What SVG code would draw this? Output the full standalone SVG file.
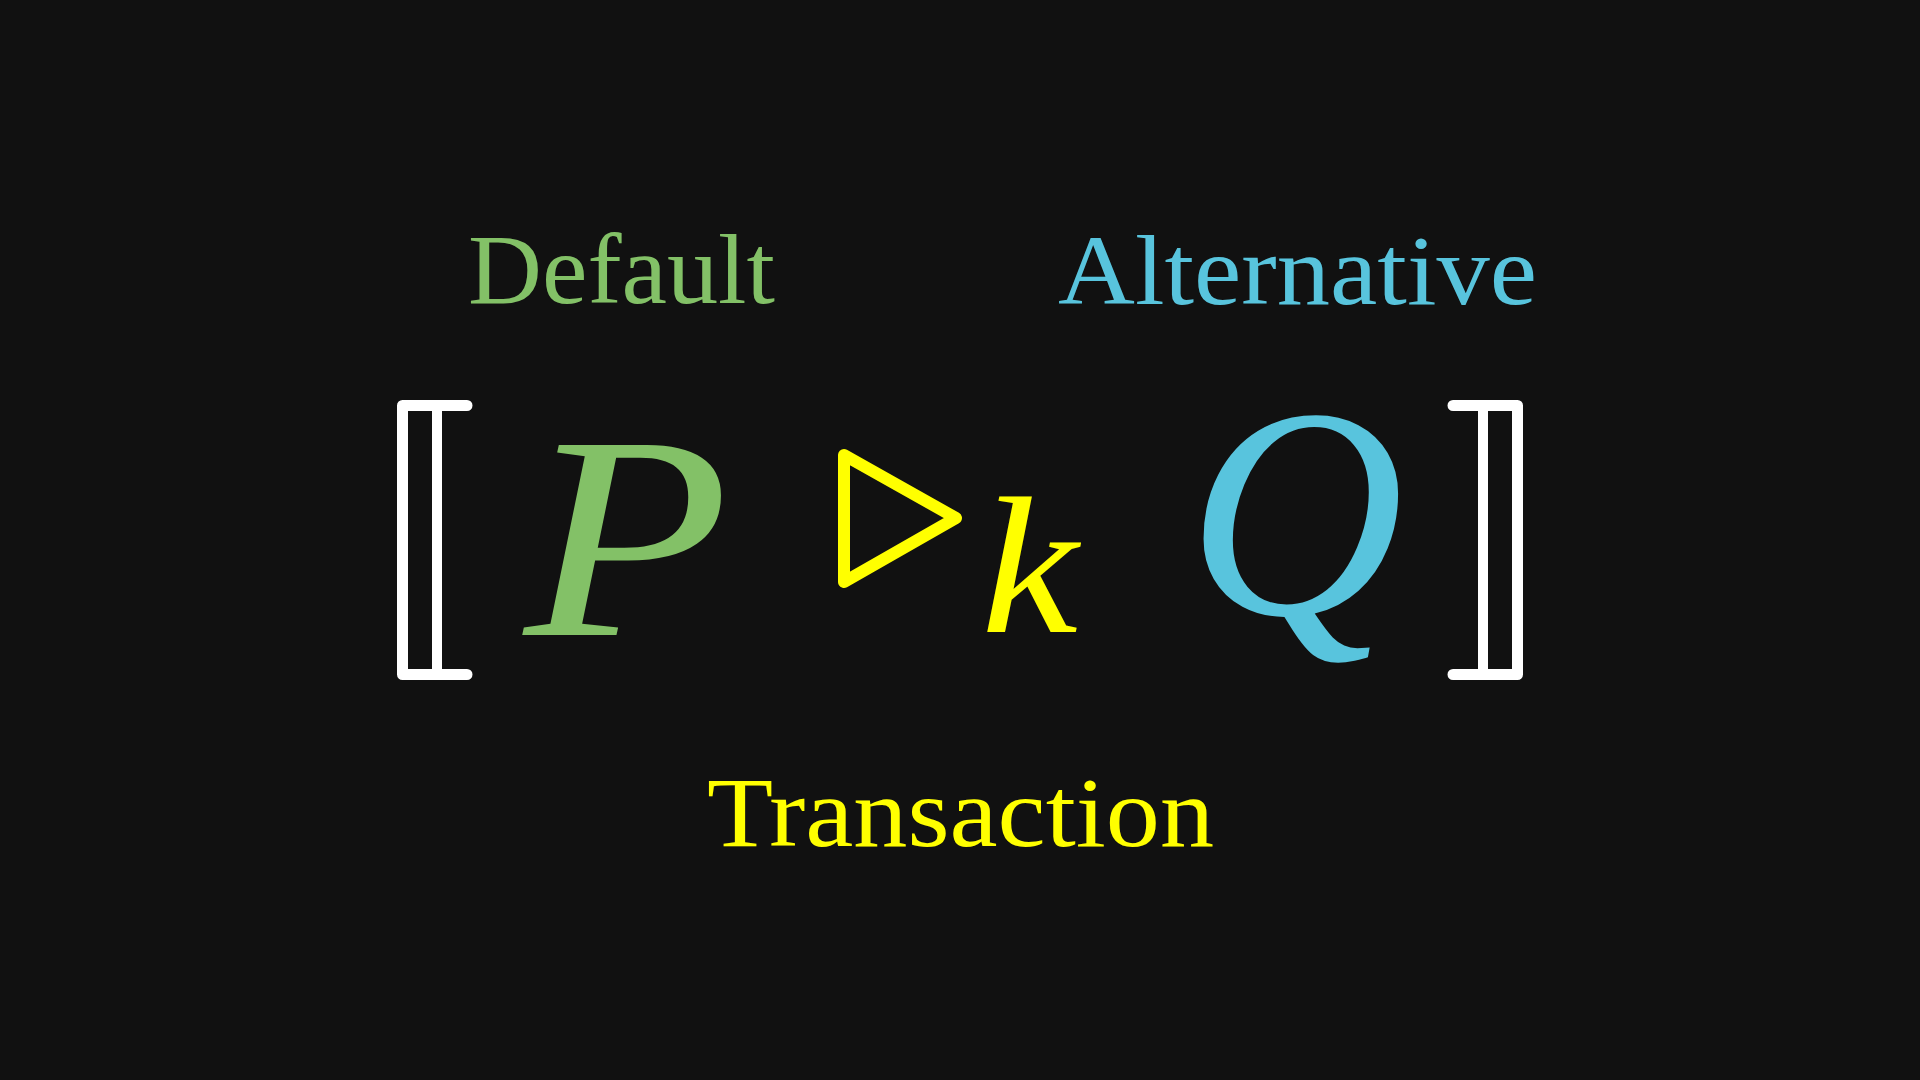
<svg xmlns="http://www.w3.org/2000/svg" width="1920" height="1080" viewBox="0 0 1920 1080">
  <style>
    .label { font-family: "Liberation Serif", "DejaVu Serif", serif; font-size: 100px; }
    .math { font-family: "Liberation Serif", "DejaVu Serif", serif; font-style: italic; }
    .bracket { fill: none; stroke: #ffffff; stroke-width: 11; stroke-linejoin: round; stroke-linecap: round; }
    .bar { stroke: #ffffff; stroke-width: 10; }
    .green { fill: #83c167; }
    .blue { fill: #58c4dd; }
    .yellow { fill: #ffff00; }
  </style>
  <rect width="1920" height="1080" fill="#111111"/>

  <!-- labels -->
  <g id="label-default">
    <text class="label green" x="468" y="303" textLength="307" lengthAdjust="spacingAndGlyphs">Default</text>
  </g>
  <g id="label-alternative">
    <text class="label blue" x="1058" y="304" textLength="479" lengthAdjust="spacingAndGlyphs">Alternative</text>
  </g>
  <g id="label-transaction">
    <text class="label yellow" x="707" y="846" textLength="507" lengthAdjust="spacingAndGlyphs">Transaction</text>
  </g>

  <!-- semantic brackets -->
  <g id="bracket-left">
    <path class="bracket" d="M467,405.5 H402.5 V674.5 H467"/>
    <line class="bar" x1="437" y1="405.5" x2="437" y2="674.5"/>
  </g>
  <g id="bracket-right">
    <path class="bracket" d="M1453,405.5 H1517.5 V674.5 H1453"/>
    <line class="bar" x1="1483" y1="405.5" x2="1483" y2="674.5"/>
  </g>

  <!-- formula -->
  <g id="term-p">
    <text class="math green" transform="translate(524,635) scale(1.16,1)" font-size="290">P</text>
  </g>
  <g id="operator">
    <polygon points="844,455 956,518 844,582" fill="none" stroke="#ffff00" stroke-width="12" stroke-linejoin="round"/>
    <text class="math yellow" transform="translate(981,632) scale(1.12,1)" font-size="195">k</text>
  </g>
  <g id="term-q">
    <text class="math blue" x="1187" y="614" font-size="300">Q</text>
  </g>
</svg>
